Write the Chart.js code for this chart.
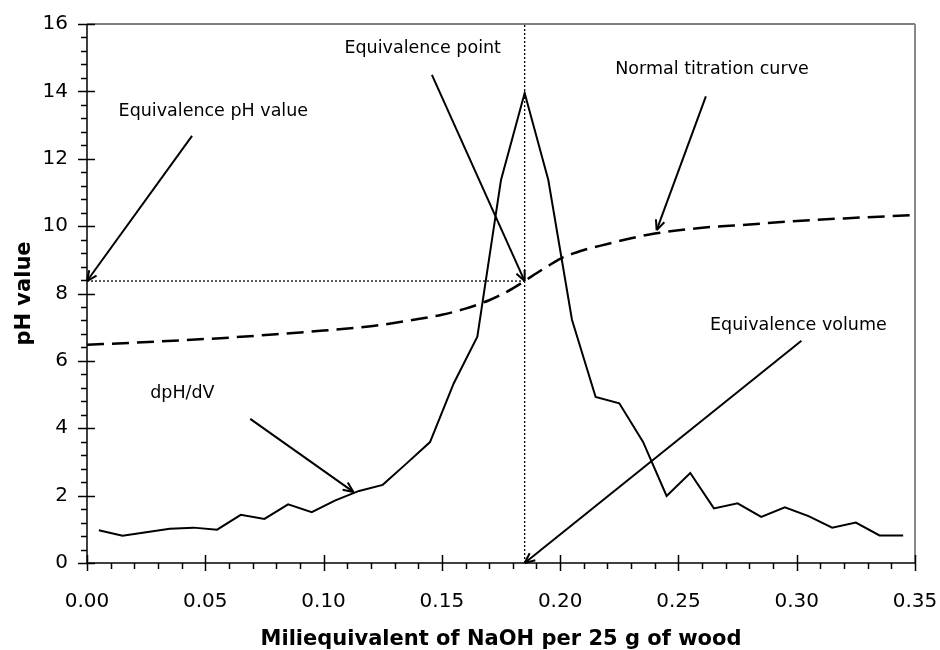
<!DOCTYPE html>
<html>
<head>
<meta charset="utf-8">
<title>Titration curve of wood</title>
<script src="https://cdn.jsdelivr.net/npm/chart.js@4.4.1/dist/chart.umd.min.js"></script>
<style>
  body { margin: 0; background: #fff; }
  #wrap { width: 940px; height: 650px; }
</style>
</head>
<body>
<div id="wrap"><canvas id="titrationChart"></canvas></div>
<script>
// dpH/dV, one value per 0.01 meq step
const derivX = [0.005, 0.015, 0.025, 0.035, 0.045, 0.055, 0.065, 0.075, 0.085, 0.095,
                0.105, 0.115, 0.125, 0.135, 0.145, 0.155, 0.165, 0.175, 0.185, 0.195,
                0.205, 0.215, 0.225, 0.235, 0.245, 0.255, 0.265, 0.275, 0.285, 0.295,
                0.305, 0.315, 0.325, 0.335, 0.345];
const derivY = [0.97, 0.81, 0.91, 1.02, 1.05, 0.99, 1.43, 1.31, 1.74, 1.51,
                1.86, 2.14, 2.32, 2.95, 3.59, 5.33, 6.72, 11.37, 13.95, 11.37,
                7.22, 4.93, 4.74, 3.60, 1.99, 2.67, 1.62, 1.77, 1.37, 1.65,
                1.39, 1.05, 1.20, 0.82, 0.82];

// normal titration curve (pH)
const curveX = [0, 0.02, 0.04, 0.06, 0.08, 0.10, 0.12, 0.14, 0.15, 0.16, 0.17, 0.175, 0.18,
                0.185, 0.19, 0.195, 0.20, 0.21, 0.22, 0.23, 0.24, 0.26, 0.28, 0.30, 0.32, 0.35];
const curveY = [6.48, 6.54, 6.61, 6.69, 6.79, 6.90, 7.03, 7.24, 7.37, 7.55, 7.80, 7.96, 8.15,
                8.37, 8.60, 8.82, 9.03, 9.29, 9.47, 9.64, 9.78, 9.95, 10.05, 10.15, 10.23, 10.33];

// equivalence point
const eqVolume = 0.185;
const eqPH = 8.37;

const xTicks = [0, 0.05, 0.10, 0.15, 0.20, 0.25, 0.30, 0.35];
const yTicks = [0, 2, 4, 6, 8, 10, 12, 14, 16];

// labels with their arrows, in data units
const notes = [
  { text: 'Equivalence pH value',   at: [0.0534, 13.39], from: [0.0444, 12.68], to: [0, eqPH] },
  { text: 'Equivalence point',      at: [0.1419, 15.27], from: [0.1458, 14.49], to: [eqVolume, eqPH] },
  { text: 'Normal titration curve', at: [0.2642, 14.64], from: [0.2616, 13.85], to: [0.2408, 9.88] },
  { text: 'dpH/dV',                 at: [0.0403, 5.04],  from: [0.069, 4.28],   to: [0.1126, 2.11] },
  { text: 'Equivalence volume',     at: [0.3007, 7.06],  from: [0.302, 6.6],    to: [eqVolume, 0] }
];

const toPoints = (xs, ys) => xs.map((v, i) => ({ x: v, y: ys[i] }));

function seg(ctx, x1, y1, x2, y2) {
  ctx.beginPath();
  ctx.moveTo(x1, y1);
  ctx.lineTo(x2, y2);
  ctx.stroke();
}

const decorations = {
  id: 'decorations',
  afterDatasetsDraw(chart) {
    const { ctx, chartArea: a, scales: { x, y } } = chart;
    ctx.save();
    ctx.lineCap = 'butt';

    // frame
    ctx.strokeStyle = '#000';
    ctx.lineWidth = 1;
    seg(ctx, a.left, a.top, a.right, a.top);
    ctx.strokeStyle = '#888';
    ctx.lineWidth = 2;
    seg(ctx, a.right, a.top, a.right, a.bottom);

    // axes
    ctx.strokeStyle = '#000';
    ctx.lineWidth = 1.5;
    seg(ctx, a.left, a.top, a.left, a.bottom);
    seg(ctx, a.left, a.bottom, a.right, a.bottom);

    // y ticks: major every 2, minor every 0.4
    for (let i = 0; i <= 40; i++) {
      const py = Math.round(y.getPixelForValue(i * 0.4)) + 0.5;
      if (i % 5 === 0) seg(ctx, a.left - 9, py, a.left + 8, py);
      else seg(ctx, a.left - 6, py, a.left, py);
    }
    // x ticks: major every 0.05, minor every 0.01
    for (let i = 0; i <= 35; i++) {
      const px = Math.round(x.getPixelForValue(i * 0.01)) + 0.5;
      if (i % 5 === 0) seg(ctx, px, a.bottom - 8, px, a.bottom + 8);
      else seg(ctx, px, a.bottom, px, a.bottom + 6);
    }

    // arrows and labels
    ctx.fillStyle = '#000';
    ctx.font = '17.5px "DejaVu Sans"';
    ctx.textAlign = 'center';
    ctx.textBaseline = 'middle';
    notes.forEach(n => {
      ctx.fillText(n.text, x.getPixelForValue(n.at[0]), y.getPixelForValue(n.at[1]));
      const x1 = x.getPixelForValue(n.from[0]), y1 = y.getPixelForValue(n.from[1]);
      const x2 = x.getPixelForValue(n.to[0]), y2 = y.getPixelForValue(n.to[1]);
      ctx.lineWidth = 2;
      seg(ctx, x1, y1, x2, y2);
      const ang = Math.atan2(y2 - y1, x2 - x1);
      const len = 11;
      [-0.42, 0.42].forEach(d => {
        seg(ctx, x2, y2, x2 - len * Math.cos(ang + d), y2 - len * Math.sin(ang + d));
      });
    });
    ctx.restore();
  }
};

const ctx = document.getElementById('titrationChart').getContext('2d');

const titrationChart = new Chart(ctx, {
  type: 'line',
  data: {
    datasets: [
      {
        label: 'dpH/dV',
        data: toPoints(derivX, derivY),
        borderColor: '#000',
        borderWidth: 2,
        pointRadius: 0,
        tension: 0
      },
      {
        label: 'Normal titration curve',
        data: toPoints(curveX, curveY),
        borderColor: '#000',
        borderWidth: 2.5,
        borderDash: [17, 8],
        pointRadius: 0,
        cubicInterpolationMode: 'monotone'
      },
      {
        label: 'Equivalence volume',
        data: [{ x: eqVolume, y: 0 }, { x: eqVolume, y: 16 }],
        borderColor: '#000',
        borderWidth: 1.3,
        borderDash: [2, 2],
        pointRadius: 0
      },
      {
        label: 'Equivalence pH',
        data: [{ x: 0, y: eqPH }, { x: eqVolume, y: eqPH }],
        borderColor: '#000',
        borderWidth: 1.3,
        borderDash: [2, 2],
        pointRadius: 0
      }
    ]
  },
  options: {
    responsive: true,
    maintainAspectRatio: false,
    animation: false,
    layout: { padding: { left: 0, right: 25, top: 24, bottom: 0 } },
    plugins: {
      legend: { display: false },
      tooltip: { enabled: false }
    },
    scales: {
      x: {
        type: 'linear',
        min: 0,
        max: 0.35,
        afterBuildTicks: s => { s.ticks = xTicks.map(v => ({ value: v })); },
        afterFit: s => { s.height = 87; s.paddingLeft = 0; s.paddingRight = 0; },
        grid: { display: false },
        border: { display: false },
        ticks: {
          padding: 19,
          color: '#000',
          font: { family: 'DejaVu Sans', size: 20 },
          callback: v => v.toFixed(2)
        },
        title: {
          display: true,
          text: 'Miliequivalent of NaOH per 25 g of wood',
          color: '#000',
          font: { family: 'DejaVu Sans', size: 21, weight: 'bold' },
          padding: { top: 0, bottom: -2 }
        }
      },
      y: {
        min: 0,
        max: 16,
        afterBuildTicks: s => { s.ticks = yTicks.map(v => ({ value: v })); },
        afterFit: s => { s.width = 87; s.paddingTop = 0; s.paddingBottom = 0; },
        grid: { display: false },
        border: { display: false },
        ticks: {
          padding: 11,
          color: '#000',
          font: { family: 'DejaVu Sans', size: 20 }
        },
        title: {
          display: true,
          text: 'pH value',
          color: '#000',
          font: { family: 'DejaVu Sans', size: 21, weight: 'bold' },
          padding: { top: 12, bottom: 0 }
        }
      }
    }
  },
  plugins: [decorations]
});
</script>
</body>
</html>
